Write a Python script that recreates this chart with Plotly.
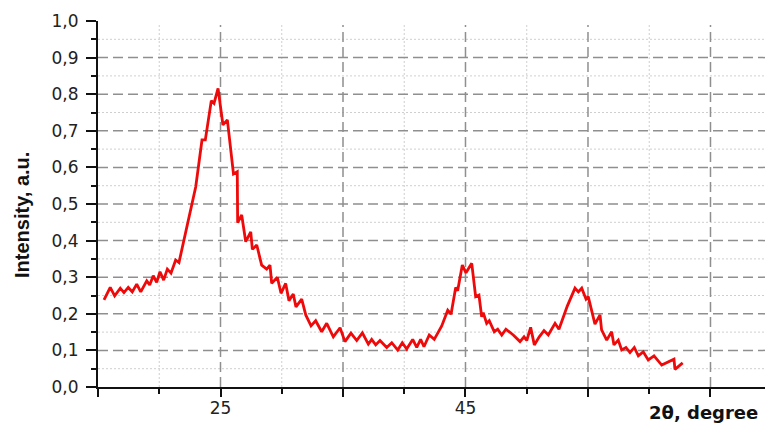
import plotly.graph_objects as go

# ---- data (2theta in degrees, intensity in a.u.) ----
two_theta = [
    15.49, 16.00, 16.36, 16.82, 17.12, 17.47, 17.80, 18.16, 18.49, 18.98,
    19.22, 19.51, 19.79, 20.06, 20.36, 20.66, 20.96, 21.34, 21.61, 22.21,
    22.76, 22.98, 23.49, 23.76, 24.25, 24.47, 24.80, 25.20, 25.56, 26.06,
    26.37, 26.40, 26.73, 27.06, 27.47, 27.60, 27.96, 28.36, 28.77, 29.04,
    29.18, 29.64, 29.94, 30.32, 30.59, 30.94, 31.16, 31.63, 31.96, 32.39,
    32.77, 33.26, 33.67, 34.21, 34.76, 35.16, 35.65, 36.12, 36.58, 37.07,
    37.34, 37.67, 38.02, 38.57, 38.98, 39.47, 39.84, 40.20, 40.69, 41.02,
    41.34, 41.61, 42.04, 42.45, 43.06, 43.55, 43.82, 44.20, 44.36, 44.74,
    45.04, 45.51, 45.83, 46.10, 46.32, 46.45, 46.73, 46.94, 47.35, 47.63,
    47.96, 48.30, 48.90, 49.45, 49.78, 50.00, 50.32, 50.62, 51.02, 51.41,
    51.76, 52.31, 52.63, 52.98, 53.31, 53.94, 54.21, 54.49, 54.84, 55.02,
    55.57, 55.98, 56.11, 56.53, 56.93, 57.12, 57.47, 57.75, 58.10, 58.43,
    58.78, 59.11, 59.51, 59.92, 60.39, 61.02, 61.42, 62.02, 62.10, 62.73,
]
intensity = [
    0.238, 0.272, 0.249, 0.270, 0.258, 0.272, 0.260, 0.281, 0.260, 0.290,
    0.279, 0.304, 0.286, 0.315, 0.292, 0.322, 0.311, 0.347, 0.340, 0.429,
    0.511, 0.547, 0.675, 0.675, 0.782, 0.775, 0.816, 0.716, 0.730, 0.582,
    0.588, 0.449, 0.470, 0.397, 0.424, 0.376, 0.388, 0.333, 0.322, 0.333,
    0.283, 0.300, 0.256, 0.283, 0.236, 0.254, 0.219, 0.240, 0.197, 0.167,
    0.181, 0.151, 0.174, 0.137, 0.162, 0.124, 0.147, 0.127, 0.148, 0.117,
    0.130, 0.115, 0.127, 0.108, 0.121, 0.101, 0.121, 0.104, 0.130, 0.108,
    0.130, 0.110, 0.142, 0.130, 0.167, 0.210, 0.199, 0.272, 0.263, 0.333,
    0.312, 0.338, 0.247, 0.251, 0.192, 0.203, 0.174, 0.181, 0.151, 0.158,
    0.142, 0.158, 0.142, 0.124, 0.137, 0.127, 0.163, 0.115, 0.137, 0.154,
    0.142, 0.174, 0.158, 0.192, 0.221, 0.270, 0.260, 0.270, 0.240, 0.247,
    0.172, 0.197, 0.156, 0.128, 0.151, 0.115, 0.128, 0.101, 0.108, 0.094,
    0.108, 0.085, 0.096, 0.074, 0.085, 0.060, 0.066, 0.076, 0.048, 0.066,
]

x_range = [15, 69.45]
y_range = [0, 1.0]
x_major = [15, 25, 35, 45, 55, 65]
x_major_text = ["", "25", "", "45", "", ""]
x_minor = [20, 30, 40, 50, 60]
y_major_grid = [0.1, 0.2, 0.3, 0.4, 0.5, 0.6, 0.7, 0.8, 0.9]
y_minor_grid = [0.05, 0.15, 0.25, 0.35, 0.45, 0.55, 0.65, 0.75, 0.85, 0.95]
grid_top = 0.989

fig = go.Figure()
fig.add_trace(go.Scatter(
    x=two_theta, y=intensity, mode="lines",
    line=dict(color="#ee0a0a", width=2.8),
    showlegend=False, hoverinfo="skip",
))

shapes = []
major_style = dict(color="#8f8f8f", width=1.5, dash="10px,5px")
minor_style = dict(color="#cfcfcf", width=1, dash="2px,2px")
for v in y_minor_grid:
    shapes.append(dict(type="line", xref="x", yref="y", x0=x_range[0], x1=x_range[1],
                       y0=v, y1=v, line=minor_style, layer="below"))
for v in x_minor:
    shapes.append(dict(type="line", xref="x", yref="y", x0=v, x1=v,
                       y0=0, y1=grid_top, line=minor_style, layer="below"))
for v in y_major_grid:
    shapes.append(dict(type="line", xref="x", yref="y", x0=x_range[0], x1=x_range[1],
                       y0=v, y1=v, line=major_style, layer="below"))
for v in x_major[1:]:
    shapes.append(dict(type="line", xref="x", yref="y", x0=v, x1=v,
                       y0=0, y1=grid_top, line=major_style, layer="below"))

fig.update_layout(
    width=765, height=426,
    margin=dict(l=98, r=0, t=21, b=39),
    paper_bgcolor="white", plot_bgcolor="white",
    separators=", ",
    shapes=shapes,
    font=dict(family="DejaVu Sans", color="#222222"),
    xaxis=dict(
        range=x_range, showgrid=False, zeroline=False,
        showline=True, linecolor="#111111", linewidth=2,
        tickmode="array", tickvals=x_major, ticktext=x_major_text,
        ticks="outside", ticklen=8, tickwidth=2, tickcolor="#111111",
        ticklabelstandoff=-3,
        tickfont=dict(family="DejaVu Sans", size=17, color="#222222"),
        minor=dict(tickmode="array", tickvals=x_minor, ticks="outside",
                   ticklen=5, tickwidth=2, tickcolor="#111111", showgrid=False),
    ),
    yaxis=dict(
        range=y_range, showgrid=False, zeroline=False,
        showline=True, linecolor="#111111", linewidth=2,
        tick0=0, dtick=0.1, tickformat=".1f",
        ticks="outside", ticklen=10, tickwidth=2, tickcolor="#111111",
        ticklabelstandoff=4,
        tickfont=dict(family="DejaVu Sans", size=17, color="#222222"),
        minor=dict(dtick=0.05, tick0=0, ticks="outside", ticklen=5,
                   tickwidth=1.5, tickcolor="#111111", showgrid=False),
    ),
    annotations=[
        dict(text="Intensity, a.u.", textangle=-90, xref="paper", yref="paper",
             x=-0.114, y=0.47, xanchor="center", yanchor="middle", showarrow=False,
             font=dict(family="Liberation Sans", size=20, color="#111111", weight="bold")),
        dict(text="<b>2θ, degree</b>", xref="paper", yref="paper",
             x=0.992, y=-0.071, xanchor="right", yanchor="middle", showarrow=False,
             font=dict(family="DejaVu Sans", size=18, color="#111111")),
    ],
)

fig.write_html("out.html")
